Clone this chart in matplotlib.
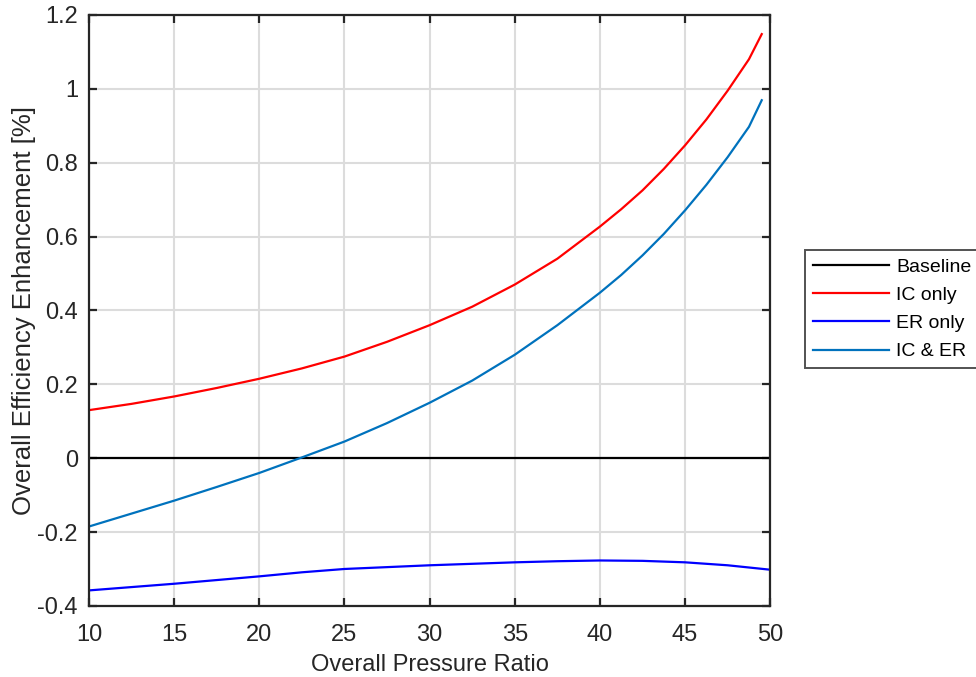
import matplotlib
matplotlib.use("Agg")
import matplotlib.pyplot as plt

plt.rcParams['font.family'] = ['Liberation Sans', 'DejaVu Sans']

opr = [10, 12.5, 15, 17.5, 20, 22.5, 25, 27.5, 30, 32.5, 35, 37.5, 40, 41.25, 42.5, 43.75, 45, 46.25, 47.5, 48.75, 49.5]
ic_only = [0.130, 0.147, 0.167, 0.190, 0.215, 0.243, 0.275, 0.315, 0.360, 0.410, 0.470, 0.540, 0.627, 0.674, 0.725, 0.783, 0.847, 0.917, 0.995, 1.080, 1.148]
ic_er = [-0.185, -0.150, -0.115, -0.078, -0.040, 0.002, 0.045, 0.095, 0.150, 0.210, 0.280, 0.360, 0.448, 0.496, 0.549, 0.607, 0.671, 0.740, 0.815, 0.897, 0.969]

opr_er = [10, 12.5, 15, 17.5, 20, 22.5, 25, 27.5, 30, 32.5, 35, 37.5, 40, 42.5, 45, 47.5, 50]
er_only = [-0.358, -0.349, -0.340, -0.330, -0.320, -0.309, -0.300, -0.295, -0.290, -0.286, -0.282, -0.279, -0.277, -0.278, -0.282, -0.290, -0.302]

baseline_x = [10, 50]
baseline_y = [0, 0]

xticks = [10, 15, 20, 25, 30, 35, 40, 45, 50]
yticks = [-0.4, -0.2, 0, 0.2, 0.4, 0.6, 0.8, 1, 1.2]
ytick_labels = ['-0.4', '-0.2', '0', '0.2', '0.4', '0.6', '0.8', '1', '1.2']

fig = plt.figure(figsize=(9.76, 6.77), dpi=100)
ax = fig.add_axes([0.0912, 0.105, 0.698, 0.873])

lw = 1.6
ax.plot(baseline_x, baseline_y, color='black', lw=lw, label='Baseline')
ax.plot(opr, ic_only, color='#ff0000', lw=lw, label='IC only')
ax.plot(opr_er, er_only, color='#0000ff', lw=lw, label='ER only')
ax.plot(opr, ic_er, color='#0072bd', lw=lw, label='IC & ER')

ax.set_xlim(10, 50)
ax.set_ylim(-0.4, 1.2)
ax.set_xticks(xticks)
ax.set_yticks(yticks)
ax.set_yticklabels(ytick_labels)
ax.grid(True, color='#dcdcdc', lw=1.5)
ax.set_axisbelow(True)
for s in ax.spines.values():
    s.set_color('#262626')
    s.set_linewidth(1.6)
ax.tick_params(direction='in', top=True, right=True, length=6, width=1.6,
               color='#262626', labelsize=17, labelcolor='#262626')
ax.tick_params(axis='x', pad=13)
ax.tick_params(axis='y', pad=8)

ax.set_xlabel('Overall Pressure Ratio', fontsize=17, color='#262626', labelpad=6)
ax.set_ylabel('Overall Efficiency Enhancement [%]', fontsize=18.5, color='#262626', labelpad=1)

leg = ax.legend(loc='upper left', bbox_to_anchor=(1.051, 0.602), fontsize=14,
                frameon=True, fancybox=False, edgecolor='#262626',
                handlelength=3.9, borderpad=0.4, labelspacing=0.55,
                handletextpad=0.4, borderaxespad=0)
leg.get_frame().set_linewidth(1.4)

fig.savefig('out.png', dpi=100)
